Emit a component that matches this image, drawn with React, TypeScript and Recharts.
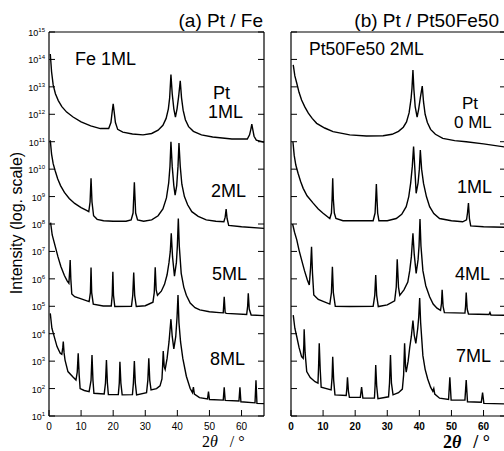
import { Line, LineChart, XAxis, YAxis } from "recharts";

// each point: [2θ in degrees, log10 of intensity]
type Pt = [number, number];

const xTicks = [0, 10, 20, 30, 40, 50, 60];
const yExponents = [1, 2, 3, 4, 5, 6, 7, 8, 9, 10, 11, 12, 13, 14, 15];
const yTicks = yExponents.map((n) => 10 ** n);

// (a) Pt / Fe, Fe 1ML
const aPt1ML: Pt[] = [
  [0.4, 14.2], [0.8, 13.55], [1.3, 13.07], [2.0, 12.75], [2.9, 12.5], [4.0, 12.28], [5.5, 12.08], [7.5, 11.9],
  [10, 11.72], [13, 11.58], [16, 11.48], [18.6, 11.48], [19.3, 11.7], [19.7, 12.1], [20.0, 12.38], [20.3, 12.1],
  [20.7, 11.7], [21.4, 11.45], [23, 11.35], [26, 11.28], [29.3, 11.25], [32, 11.3], [34, 11.42], [35.5, 11.6],
  [36.5, 11.85], [37.2, 12.2], [37.6, 12.6], [38.0, 13.45], [38.4, 12.75], [38.9, 12.2], [39.4, 11.9],
  [39.9, 12.2], [40.4, 12.65], [40.9, 13.22], [41.3, 12.6], [41.8, 12.15], [42.5, 11.8], [43.5, 11.55],
  [45, 11.38], [47.5, 11.25], [51, 11.17], [57, 11.1], [61.8, 11.1], [62.5, 11.25], [62.9, 11.45],
  [63.2, 11.64], [63.5, 11.45], [63.9, 11.2], [64.6, 11.06], [67, 10.98],
];
const aPt2ML: Pt[] = [
  [0.4, 11.05], [0.8, 10.55], [1.3, 10.2], [1.9, 9.95], [2.7, 9.65], [3.6, 9.4], [4.8, 9.15], [6.3, 8.93],
  [8, 8.75], [10, 8.6], [11.7, 8.5], [12.4, 8.45], [12.8, 8.8], [13.1, 9.67], [13.4, 8.8], [13.9, 8.3],
  [15, 8.17], [17, 8.12], [20, 8.1], [24, 8.1], [25.6, 8.15], [26.2, 8.4], [26.6, 9.52], [27.0, 8.4],
  [27.6, 8.15], [29.5, 8.1], [32, 8.15], [34, 8.3], [35.5, 8.55], [36.6, 8.95], [37.3, 9.5], [37.7, 10.1],
  [38.0, 11.0], [38.4, 10.1], [38.9, 9.4], [39.3, 9.05], [39.8, 9.4], [40.2, 10.1], [40.5, 10.95],
  [40.9, 10.1], [41.4, 9.45], [42.2, 9.0], [43.2, 8.7], [44.5, 8.45], [46.5, 8.28], [49, 8.15], [52, 8.1],
  [54.5, 8.08], [54.9, 8.25], [55.2, 8.54], [55.5, 8.2], [56, 7.95], [60, 7.9], [67, 7.84],
];
const aPt5ML: Pt[] = [
  [0.5, 8.05], [1.0, 7.6], [1.9, 7.2], [2.8, 6.8], [3.7, 6.45], [4.8, 6.12], [5.7, 5.92], [6.2, 5.84],
  [6.45, 6.3], [6.6, 6.69], [6.8, 6.0], [7.1, 5.45], [8, 5.35], [9.6, 5.29], [12.5, 5.17], [12.9, 5.5],
  [13.1, 6.41], [13.3, 5.5], [13.8, 5.08], [16.9, 5.01], [19.4, 5.01], [19.7, 5.4], [19.9, 6.26],
  [20.1, 5.4], [20.5, 4.99], [25.7, 5.0], [26.1, 5.4], [26.4, 6.23], [26.7, 5.4], [27.2, 4.99], [30, 5.02],
  [32.4, 5.15], [32.8, 5.5], [33.1, 6.42], [33.4, 5.6], [33.8, 5.4], [35, 5.55], [36.0, 5.8], [36.8, 6.15],
  [37.4, 6.6], [37.8, 7.0], [38.1, 7.66], [38.5, 6.8], [39.1, 6.1], [39.7, 6.6], [40.0, 7.2], [40.3, 8.2],
  [40.6, 7.2], [41.2, 6.2], [42, 5.7], [42.8, 5.4], [44, 5.12], [45.5, 4.95], [47, 4.87], [50, 4.8],
  [53.1, 4.77], [54.3, 4.76], [54.6, 5.35], [54.9, 4.76], [55.3, 4.74], [61.6, 4.7], [61.9, 5.0],
  [62.1, 5.47], [62.4, 4.9], [63.0, 4.68], [67, 4.66],
];
const aPt8ML: Pt[] = [
  [0.4, 4.74], [0.9, 4.2], [1.5, 3.95], [2.5, 3.53], [3.5, 3.29], [4.0, 3.25], [4.3, 3.5], [4.45, 3.71],
  [4.7, 3.3], [5.0, 3.04], [5.9, 2.62], [7.4, 2.43], [8.4, 2.31], [8.8, 2.6], [9.1, 3.29], [9.4, 2.5],
  [9.7, 2.0], [11, 1.93], [12.5, 1.89], [13.1, 2.3], [13.4, 3.22], [13.7, 2.3], [14.0, 1.83], [17.2, 1.8],
  [17.6, 2.2], [17.9, 3.04], [18.2, 2.2], [18.5, 1.78], [21.6, 1.78], [21.9, 2.2], [22.1, 2.98], [22.4, 2.2],
  [22.8, 1.77], [26.0, 1.78], [26.3, 2.2], [26.6, 3.0], [26.9, 2.2], [27.3, 1.77], [30.4, 1.85], [30.8, 2.3],
  [31.1, 3.1], [31.4, 2.3], [31.8, 1.95], [33.5, 2.0], [34.6, 2.1], [35.2, 2.35], [35.4, 2.8], [35.6, 3.37],
  [35.9, 2.8], [36.2, 2.7], [36.8, 3.1], [37.4, 3.7], [38.0, 4.53], [38.4, 3.9], [38.9, 3.45], [39.5, 3.9],
  [39.9, 4.6], [40.2, 5.41], [40.5, 4.4], [41.0, 3.7], [41.7, 3.1], [42.8, 2.45], [44.0, 2.0], [44.7, 1.85],
  [45.0, 2.05], [45.3, 1.8], [46.9, 1.67], [49.4, 1.62], [49.7, 1.89], [50.0, 1.6], [54.3, 1.58],
  [54.6, 2.05], [54.9, 1.57], [59.2, 1.55], [59.5, 2.05], [59.8, 1.52], [64.2, 1.48], [64.5, 2.3],
  [64.8, 1.46], [67, 1.45],
];

// (b) Pt / Pt50Fe50, Pt50Fe50 2ML
const bPt0ML: Pt[] = [
  [0.7, 13.8], [1.2, 13.4], [1.8, 13.13], [2.5, 12.8], [3.3, 12.52], [4.3, 12.27], [5.4, 12.04], [6.6, 11.85],
  [8.0, 11.67], [10.5, 11.5], [13.1, 11.37], [18.3, 11.25], [23.5, 11.21], [28.7, 11.22], [31.5, 11.27],
  [33.5, 11.38], [35, 11.53], [36.0, 11.72], [36.8, 12.05], [37.4, 12.55], [37.7, 12.95], [38.0, 13.61],
  [38.3, 12.9], [38.7, 12.28], [39.3, 11.9], [39.8, 12.2], [40.3, 12.6], [40.9, 13.03], [41.3, 12.45],
  [41.8, 12.0], [42.5, 11.7], [43.5, 11.45], [45, 11.27], [47.3, 11.12], [51, 11.04], [54.6, 11.0],
  [60, 10.92], [67, 10.8],
];
const bPt1ML: Pt[] = [
  [0.6, 11.0], [1.0, 10.5], [1.5, 10.15], [2.2, 9.85], [3.0, 9.55], [3.8, 9.3], [5.0, 9.03], [6.9, 8.76],
  [8.5, 8.55], [10.0, 8.39], [12.1, 8.2], [12.6, 8.4], [12.8, 8.9], [13.0, 9.67], [13.2, 8.9], [13.5, 8.4],
  [14.0, 8.2], [16.2, 8.12], [25.6, 8.12], [26.2, 8.4], [26.4, 8.9], [26.6, 9.46], [26.8, 8.9], [27.0, 8.4],
  [27.4, 8.12], [30, 8.12], [32.8, 8.2], [34.5, 8.35], [35.9, 8.63], [36.7, 9.0], [37.3, 9.5], [37.8, 10.1],
  [38.2, 10.82], [38.6, 10.0], [39.0, 9.12], [39.6, 9.5], [40.0, 10.0], [40.3, 10.7], [40.7, 10.0],
  [41.3, 9.48], [42.2, 9.0], [43.2, 8.63], [44.5, 8.38], [46.3, 8.2], [50, 8.12], [53.5, 8.08], [54.7, 8.15],
  [55.0, 8.4], [55.3, 8.76], [55.6, 8.2], [56.0, 7.93], [60, 7.9], [67, 7.88],
];
const bPt4ML: Pt[] = [
  [0.5, 8.0], [1.1, 7.7], [1.8, 7.42], [2.5, 7.05], [3.3, 6.69], [4.2, 6.3], [5.1, 5.96], [5.7, 5.78],
  [6.1, 6.4], [6.4, 7.17], [6.7, 6.2], [7.1, 5.41], [8.5, 5.25], [12.1, 5.08], [12.6, 5.5], [12.9, 6.44],
  [13.2, 5.5], [13.8, 5.0], [18.3, 4.99], [25.6, 5.0], [26.1, 5.4], [26.4, 6.14], [26.7, 5.4], [27.2, 4.99],
  [30, 5.05], [32.3, 5.2], [32.8, 5.7], [33.1, 6.71], [33.5, 5.7], [33.9, 5.4], [35.2, 5.6], [36.4, 5.88],
  [37.0, 6.3], [37.5, 6.8], [38.0, 7.66], [38.4, 6.9], [39.0, 6.2], [39.6, 6.7], [39.9, 7.2], [40.2, 8.18],
  [40.5, 7.2], [41.1, 6.3], [42, 5.75], [43.2, 5.35], [44.3, 5.08], [45.5, 4.93], [46.6, 4.85], [46.9, 5.1],
  [47.1, 5.6], [47.4, 5.0], [47.8, 4.77], [54.2, 4.75], [54.4, 5.0], [54.6, 5.5], [54.9, 4.9], [55.3, 4.72],
  [61.7, 4.7], [62.0, 4.77], [62.3, 4.68], [67, 4.67],
];
const bPt7ML: Pt[] = [
  [0.7, 4.68], [1.2, 4.2], [1.8, 3.89], [2.5, 3.5], [3.3, 3.16], [3.8, 3.1], [4.0, 3.6], [4.1, 4.16],
  [4.4, 3.3], [4.9, 2.62], [6, 2.4], [7.5, 2.25], [8.4, 2.2], [8.6, 2.8], [8.8, 3.65], [9.1, 2.7], [9.4, 2.05],
  [12.5, 1.95], [12.8, 2.4], [13.0, 3.16], [13.3, 2.3], [13.7, 1.77], [17.2, 1.75], [17.4, 2.0], [17.6, 2.41],
  [17.9, 1.9], [18.2, 1.68], [21.6, 1.68], [22.0, 2.05], [22.4, 1.65], [26.0, 1.65], [26.2, 2.1], [26.4, 2.86],
  [26.7, 2.1], [27.1, 1.63], [30.4, 1.7], [30.7, 2.2], [31.0, 3.22], [31.3, 2.2], [31.8, 1.77], [33.5, 1.85],
  [34.7, 1.98], [35.1, 2.5], [35.4, 3.65], [35.7, 2.8], [35.9, 2.6], [36.5, 3.0], [37.0, 3.5], [37.5, 3.9],
  [38.0, 4.48], [38.4, 3.95], [38.9, 3.65], [39.5, 4.2], [39.8, 4.6], [40.1, 5.3], [40.4, 4.4], [41.1, 3.2],
  [41.8, 2.7], [42.6, 2.35], [43.5, 2.05], [44.2, 1.9], [44.5, 2.0], [44.8, 1.8], [46.3, 1.65], [49.1, 1.6],
  [49.5, 2.41], [49.9, 1.58], [54.2, 1.58], [54.6, 2.31], [55.0, 1.52], [59.3, 1.5], [59.7, 1.85],
  [60.1, 1.46], [67, 1.44],
];

const SANS = "'Liberation Sans', Arial, Helvetica, sans-serif";
const SERIF = "'Liberation Serif', 'Times New Roman', serif";
const TICK = 6;

const toRows = (pts: Pt[]) => pts.map(([x, e]) => ({ x, y: 10 ** e }));

const BottomTick = ({ x, y, payload, bold }: any) => (
  <g>
    <line x1={x} y1={y} x2={x} y2={y - TICK} stroke="#000" strokeWidth={1} />
    <text x={x} y={y + 14} textAnchor="middle" fontSize={10} fontFamily={SANS} fontWeight={bold ? 700 : 400} fill="#000">
      {payload.value}
    </text>
  </g>
);
const TopTick = ({ x, y }: any) => <line x1={x} y1={y} x2={x} y2={y + TICK} stroke="#000" strokeWidth={1} />;
const RightTick = ({ x, y }: any) => <line x1={x} y1={y} x2={x - TICK} y2={y} stroke="#000" strokeWidth={1} />;
const LeftTick = ({ x, y, payload, labels }: any) => (
  <g>
    <line x1={x} y1={y} x2={x + TICK} y2={y} stroke="#000" strokeWidth={1} />
    {labels && (
      <text x={x - 4} y={y + 4} textAnchor="end" fontSize={9} fontFamily={SANS} fill="#000">
        10
        <tspan dy={-4} fontSize={6}>
          {Math.round(Math.log10(payload.value))}
        </tspan>
      </text>
    )}
  </g>
);

const axisLine = { stroke: "#000", strokeWidth: 1.2 };

function Panel({ curves, width, margin, labels, bold }: { curves: Pt[][]; width: number; margin: any; labels: boolean; bold: boolean }) {
  return (
    <LineChart width={width} height={451} margin={margin}>
      <XAxis dataKey="x" type="number" domain={[0, 67]} ticks={xTicks} interval={0} height={1} tickSize={0} tickMargin={0}
        axisLine={axisLine} tickLine={false} tick={(p: any) => <BottomTick {...p} bold={bold} />} />
      <XAxis xAxisId="top" orientation="top" dataKey="x" type="number" domain={[0, 67]} ticks={xTicks.slice(1)} interval={0}
        height={1} tickSize={0} tickMargin={0} axisLine={axisLine} tickLine={false} tick={(p: any) => <TopTick {...p} />} />
      <YAxis type="number" scale="log" domain={[10, 1e15]} allowDataOverflow ticks={yTicks} interval={0} width={1}
        tickSize={0} tickMargin={0} axisLine={axisLine} tickLine={false} tick={(p: any) => <LeftTick {...p} labels={labels} />} />
      <YAxis yAxisId="right" orientation="right" type="number" scale="log" domain={[10, 1e15]} allowDataOverflow ticks={yTicks}
        interval={0} width={1} tickSize={0} tickMargin={0} axisLine={axisLine} tickLine={false} tick={(p: any) => <RightTick {...p} />} />
      {curves.map((c, i) => (
        <Line key={i} data={toRows(c)} dataKey="y" type="linear" stroke="#000" strokeWidth={1.4} dot={false} isAnimationActive={false} />
      ))}
    </LineChart>
  );
}

const txt = { fontFamily: SANS, fill: "#000" };

export default function App() {
  return (
    <div style={{ position: "absolute", left: 0, top: 0, width: 504, height: 451, overflow: "hidden", background: "#fff" }}>
      <div style={{ position: "absolute", left: 0, top: 0 }}>
        <Panel curves={[aPt1ML, aPt2ML, aPt5ML, aPt8ML]} width={504} labels bold={false}
          margin={{ top: 31, left: 48, right: 239, bottom: 34 }} />
      </div>
      <div style={{ position: "absolute", left: 0, top: 0 }}>
        <Panel curves={[bPt0ML, bPt1ML, bPt4ML, bPt7ML]} width={510} labels={false} bold
          margin={{ top: 31, left: 290, right: 3, bottom: 34 }} />
      </div>
      <svg width={504} height={451} style={{ position: "absolute", left: 0, top: 0, pointerEvents: "none" }}>
        <text x={263} y={27} textAnchor="end" fontSize={19} {...txt}>(a) Pt / Fe</text>
        <text x={499} y={27} textAnchor="end" fontSize={19} {...txt}>(b) Pt / Pt50Fe50</text>
        <text transform="translate(22,223) rotate(-90)" textAnchor="middle" fontSize={16} {...txt}>Intensity (log. scale)</text>

        <text x={75} y={65} fontSize={18} {...txt}>Fe 1ML</text>
        <text x={213} y={99} fontSize={18} {...txt}>Pt</text>
        <text x={208} y={118} fontSize={18} {...txt}>1ML</text>
        <text x={211} y={197} fontSize={18} {...txt}>2ML</text>
        <text x={212} y={280} fontSize={18} {...txt}>5ML</text>
        <text x={210} y={365} fontSize={18} {...txt}>8ML</text>

        <text x={309} y={55} fontSize={17.5} {...txt}>Pt50Fe50 2ML</text>
        <text x={462} y={109} fontSize={17} {...txt}>Pt</text>
        <text x={454} y={128} fontSize={17} {...txt}>0 ML</text>
        <text x={457} y={193} fontSize={18} {...txt}>1ML</text>
        <text x={455} y={280} fontSize={18} {...txt}>4ML</text>
        <text x={456} y={362} fontSize={18} {...txt}>7ML</text>

        <text x={202} y={447} fontSize={16} fontFamily={SERIF} fill="#000">
          2<tspan fontStyle="italic">θ</tspan>
          <tspan dx={12}>/ °</tspan>
        </text>
        <text x={443} y={448} fontSize={18} fontFamily={SERIF} fontWeight={700} fill="#000">
          2<tspan fontStyle="italic">θ</tspan>
          <tspan dx={12}>/ °</tspan>
        </text>
      </svg>
    </div>
  );
}
